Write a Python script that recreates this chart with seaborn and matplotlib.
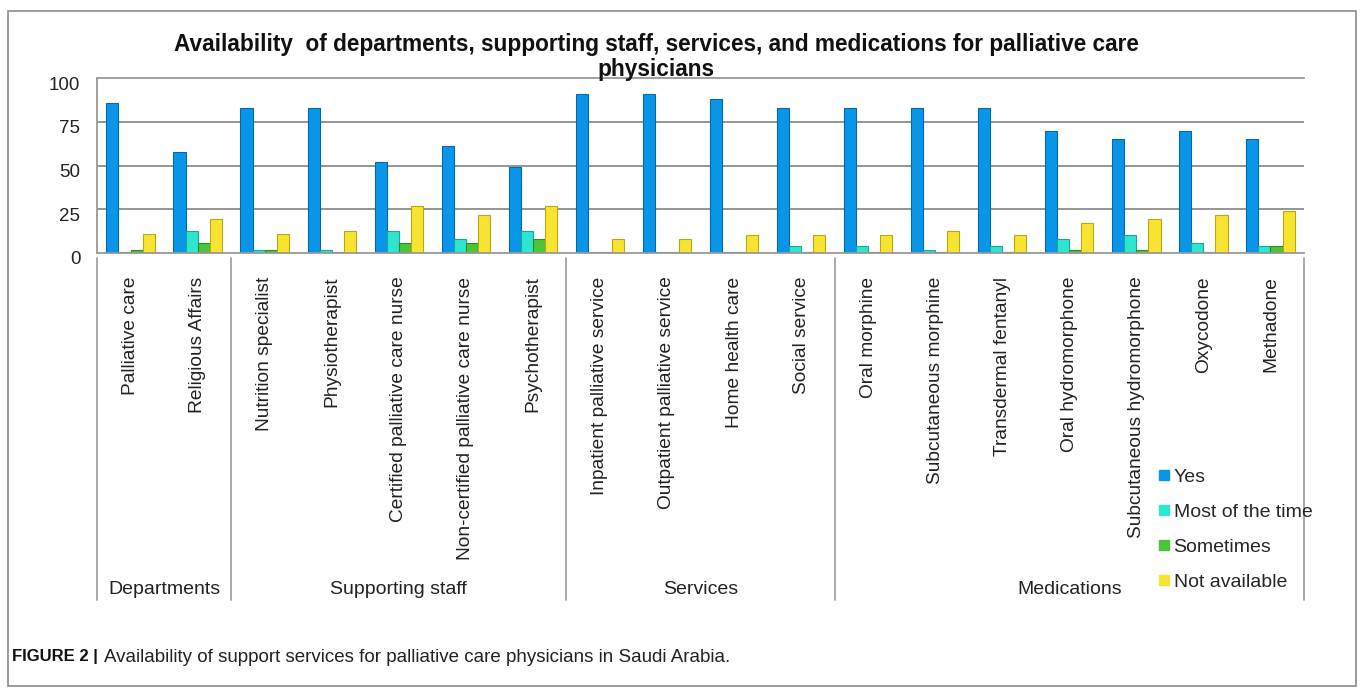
import matplotlib
matplotlib.use("Agg")
import matplotlib.pyplot as plt
import matplotlib.transforms as mtransforms
import seaborn as sns
import pandas as pd
from matplotlib.lines import Line2D
from matplotlib.patches import Rectangle

categories = ["Palliative care", "Religious Affairs", "Nutrition specialist", "Physiotherapist",
              "Certified palliative care nurse", "Non-certified palliative care nurse",
              "Psychotherapist", "Inpatient palliative service", "Outpatient palliative service",
              "Home health care", "Social service", "Oral morphine", "Subcutaneous morphine",
              "Transdermal fentanyl", "Oral hydromorphone", "Subcutaneous hydromorphone",
              "Oxycodone", "Methadone"]
yes = [86, 58, 83, 83, 52, 61, 49, 91, 91, 88, 83, 83, 83, 83, 70, 65, 70, 65]
most_of_time = [0.5, 12.5, 1.5, 1.5, 12.5, 8, 12.5, 0.5, 0.5, 0.5, 4, 4, 1.5, 4, 8, 10.5, 6, 4]
sometimes = [2, 6, 2, 0.5, 6, 6, 8, 0.5, 0.5, 0.5, 0.5, 0.5, 0.5, 0.5, 2, 2, 0.5, 4]
not_available = [11, 19.5, 11, 12.5, 27, 22, 27, 8, 8, 10.5, 10.5, 10.5, 12.8, 10.5, 17, 19.5, 22, 24]
series_names = ["Yes", "Most of the time", "Sometimes", "Not available"]
groups = ["Departments", "Supporting staff", "Services", "Medications"]
group_sizes = [2, 5, 4, 7]
yticks = [0, 25, 50, 75, 100]

colors = ["#0A96E8", "#2EE6CF", "#4CC43A", "#F7E431"]
edge_colors = ["#0668A8", "#19A898", "#2E8A22", "#B8A815"]

rows = []
for name, vals in zip(series_names, [yes, most_of_time, sometimes, not_available]):
    for c, v in zip(categories, vals):
        rows.append({"category": c, "value": v, "series": name})
df = pd.DataFrame(rows)

sns.set_theme(style="white")
plt.rcParams["font.family"] = ["Liberation Sans", "DejaVu Sans"]

W, H = 1363, 688
fig = plt.figure(figsize=(W / 100, H / 100), dpi=100)
fig.patch.set_facecolor("white")

# outer frame
fig.patches.append(Rectangle((8 / W, 1 - 686 / H), (1356 - 8) / W, (686 - 11) / H,
                             transform=fig.transFigure, fill=False, edgecolor="#8a8a8a",
                             linewidth=1.2))

left, right, top, bottom = 97, 1304, 78, 253
ax = fig.add_axes([left / W, 1 - bottom / H, (right - left) / W, (bottom - top) / H])

sns.barplot(data=df, x="category", y="value", hue="series", order=categories,
            hue_order=series_names, palette=colors, width=0.72, ax=ax,
            legend=False, saturation=1, linewidth=0.8)
for cont, ec in zip(ax.containers, edge_colors):
    for p in cont:
        p.set_edgecolor(ec)

ax.set_ylim(0, 100)
ax.set_xlim(-0.5, len(categories) - 0.5)
ax.set_yticks(yticks)
ax.set_yticklabels([str(t) for t in yticks], fontsize=13.5, color="#222222")
ax.tick_params(axis="y", length=0, pad=12)
shift = mtransforms.ScaledTranslation(0, -5 / 100, fig.dpi_scale_trans)
for lab in ax.get_yticklabels():
    lab.set_transform(lab.get_transform() + shift)
for t in [25, 50, 75]:
    ax.axhline(t, color="#8c8c8c", linewidth=1.3, zorder=0)
for s in ["top", "left", "bottom"]:
    ax.spines[s].set_color("#999999")
    ax.spines[s].set_linewidth(1.3)
ax.spines["right"].set_visible(False)
ax.set_xlabel("")
ax.set_ylabel("")

ax.set_xticks(range(len(categories)))
ax.set_xticklabels(categories, rotation=90, fontsize=13.8, color="#222222", va="top")
ax.tick_params(axis="x", length=0, pad=17)

# group separators and labels
trans = ax.get_xaxis_transform()
ax_h = bottom - top
y_top_sep = -5 / ax_h
y_bot_sep = -(600 - bottom) / ax_h
bounds = [-0.5]
for gs in group_sizes:
    bounds.append(bounds[-1] + gs)
for b in bounds:
    ax.add_line(Line2D([b, b], [y_top_sep, y_bot_sep], transform=trans, color="#999999",
                       linewidth=1.2, clip_on=False))
for g, b0, b1 in zip(groups, bounds[:-1], bounds[1:]):
    ax.text((b0 + b1) / 2, -(590 - bottom) / ax_h, g, transform=trans, ha="center",
            va="center", fontsize=14, color="#222222")

# title
fig.text(656 / W, 1 - 57 / H,
         "Availability  of departments, supporting staff, services, and medications for palliative care\nphysicians",
         ha="center", va="center", fontsize=16.3, fontweight="bold", color="#111111",
         linespacing=1.12)

# legend
handles = [Line2D([0], [0], marker="s", linestyle="", markersize=7, markerfacecolor=c,
                  markeredgecolor=c) for c in colors]
fig.legend(handles, series_names, loc="upper left", bbox_to_anchor=(1158 / W, 1 - 468 / H),
           frameon=False, fontsize=14, handlelength=0.6, handletextpad=0.2,
           labelspacing=0.9, borderaxespad=0, borderpad=0)

# caption
fig.text(12 / W, 1 - 657 / H, "FIGURE 2 |", ha="left", va="center", fontsize=12,
         fontweight="bold", color="#111111")
fig.text(104 / W, 1 - 657 / H,
         "Availability of support services for palliative care physicians in Saudi Arabia.",
         ha="left", va="center", fontsize=13.5, color="#222222")

fig.savefig("out.png", dpi=100, facecolor="white")
